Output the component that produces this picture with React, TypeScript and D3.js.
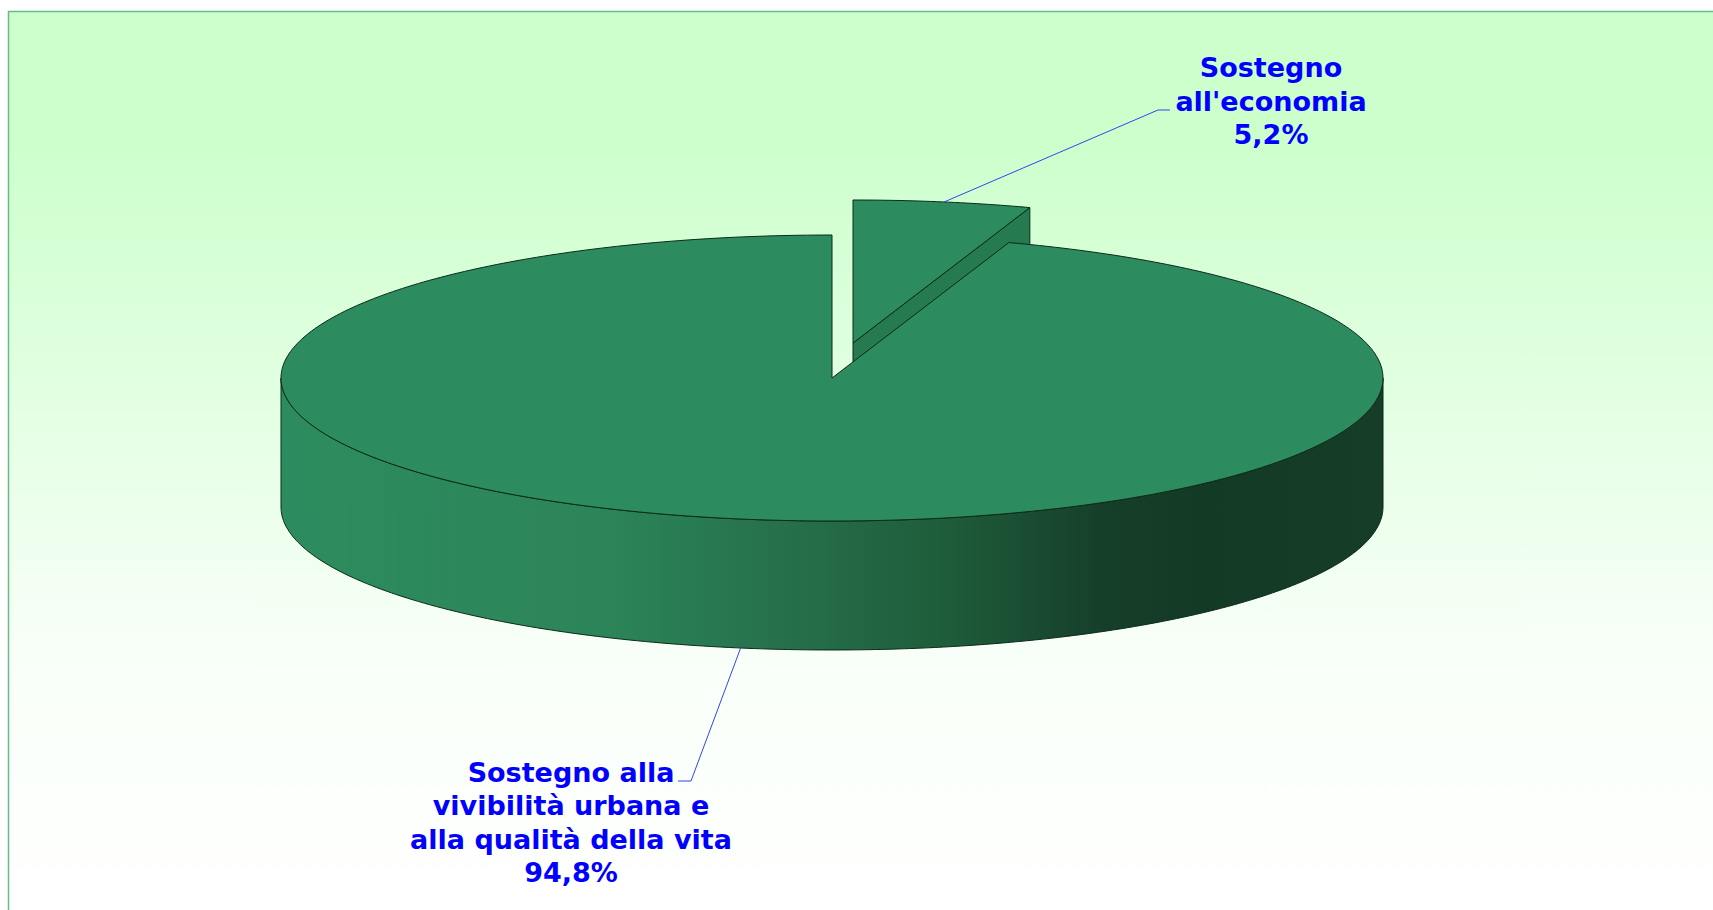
import React from 'react';
import * as d3 from 'd3';

const categories = ["Sostegno all'economia", 'Sostegno alla vivibilità urbana e alla qualità della vita'];
const values = [5.2, 94.8];
const labelLines = [
  ['Sostegno', "all'economia", '5,2%'],
  ['Sostegno alla', 'vivibilità urbana e', 'alla qualità della vita', '94,8%'],
];

const width = 1713;
const height = 910;

// pie geometry
const cx = 832;
const cy = 378;
const rx = 551;
const ry = 143;
const depth = 129;
const explode = { x: 21, y: -35 };

const pie = d3.pie<number>().sort(null).value(d => d);
const arcs = pie(values);

const rim = (a0: number, a1: number, n = 200): [number, number][] =>
  d3.range(n + 1).map(i => {
    const t = a0 + ((a1 - a0) * i) / n;
    return [cx + rx * Math.sin(t), cy - ry * Math.cos(t)];
  });

const line = d3.line();

const smallRim = rim(arcs[0].startAngle, arcs[0].endAngle, 30);
const bigRim = rim(arcs[1].startAngle, arcs[1].endAngle, 400);
const frontRim = rim(Math.PI / 2, (3 * Math.PI) / 2, 200);

const smallApex: [number, number] = [cx + explode.x, cy + explode.y];
const smallTop = [smallApex, ...smallRim.map(([x, y]) => [x + explode.x, y + explode.y] as [number, number]), smallApex];
const corner = smallTop[smallTop.length - 2];
const smallWall: [number, number][] = [smallApex, corner, [corner[0], corner[1] + depth], [smallApex[0], smallApex[1] + depth], smallApex];
const bigTop: [number, number][] = [[cx, cy], ...bigRim, [cx, cy]];
const side: [number, number][] = [...frontRim, ...frontRim.slice().reverse().map(([x, y]) => [x, y + depth] as [number, number]), frontRim[0]];

const sideStops: [number, string][] = [
  [0, '#2d8c5f'], [0.29, '#2c8559'], [0.38, '#287a52'], [0.47, '#266e4a'], [0.607, '#1e5c3a'],
  [0.743, '#163f2a'], [0.834, '#133a25'], [1, '#153d27'],
];

export default function App() {
  return (
    <svg width={width} height={height} style={{ position: 'absolute', left: 0, top: 0 }}>
      <title>{categories.join(' / ')}</title>
      <defs>
        <linearGradient id="bg" x1="0" y1="0" x2="0" y2="1">
          <stop offset="0" stopColor="#ccffcc" />
          <stop offset="0.14" stopColor="#ccffcc" />
          <stop offset="0.7" stopColor="#f8fff8" />
          <stop offset="1" stopColor="#ffffff" />
        </linearGradient>
        <linearGradient id="side" gradientUnits="userSpaceOnUse" x1={cx - rx} x2={cx + rx} y1="0" y2="0">
          {sideStops.map(([o, c]) => <stop key={o} offset={o} stopColor={c} />)}
        </linearGradient>
      </defs>
      <rect x="8.5" y="11.5" width={width} height={height} fill="url(#bg)" stroke="#66bb88" strokeWidth="1.5" />

      <g stroke="#0c2a18" strokeWidth="1" strokeLinejoin="round">
        <path d={line(smallWall)!} fill="#257a50" />
        <path d={line(smallTop)!} fill="#2d8c5f" />
        <path d={line(side)!} fill="url(#side)" />
        <path d={line(bigTop)!} fill="#2d8c5f" />
      </g>

      <g fill="none" stroke="#3344ee" strokeWidth="1">
        <path d="M 944 202 L 1158 110 L 1170 110" />
        <path d="M 741 647 L 691 781 L 678 781" />
      </g>

      <g fill="#0000ff" fontFamily="Verdana, 'DejaVu Sans', sans-serif" fontWeight="700" fontSize="27" textAnchor="middle">
        {labelLines[0].map((t, i) => (
          <text key={t} x={1271} y={77 + i * 33.5}>{t}</text>
        ))}
        {labelLines[1].map((t, i) => (
          <text key={t} x={571} y={782 + i * 33.3}>{t}</text>
        ))}
      </g>
    </svg>
  );
}
